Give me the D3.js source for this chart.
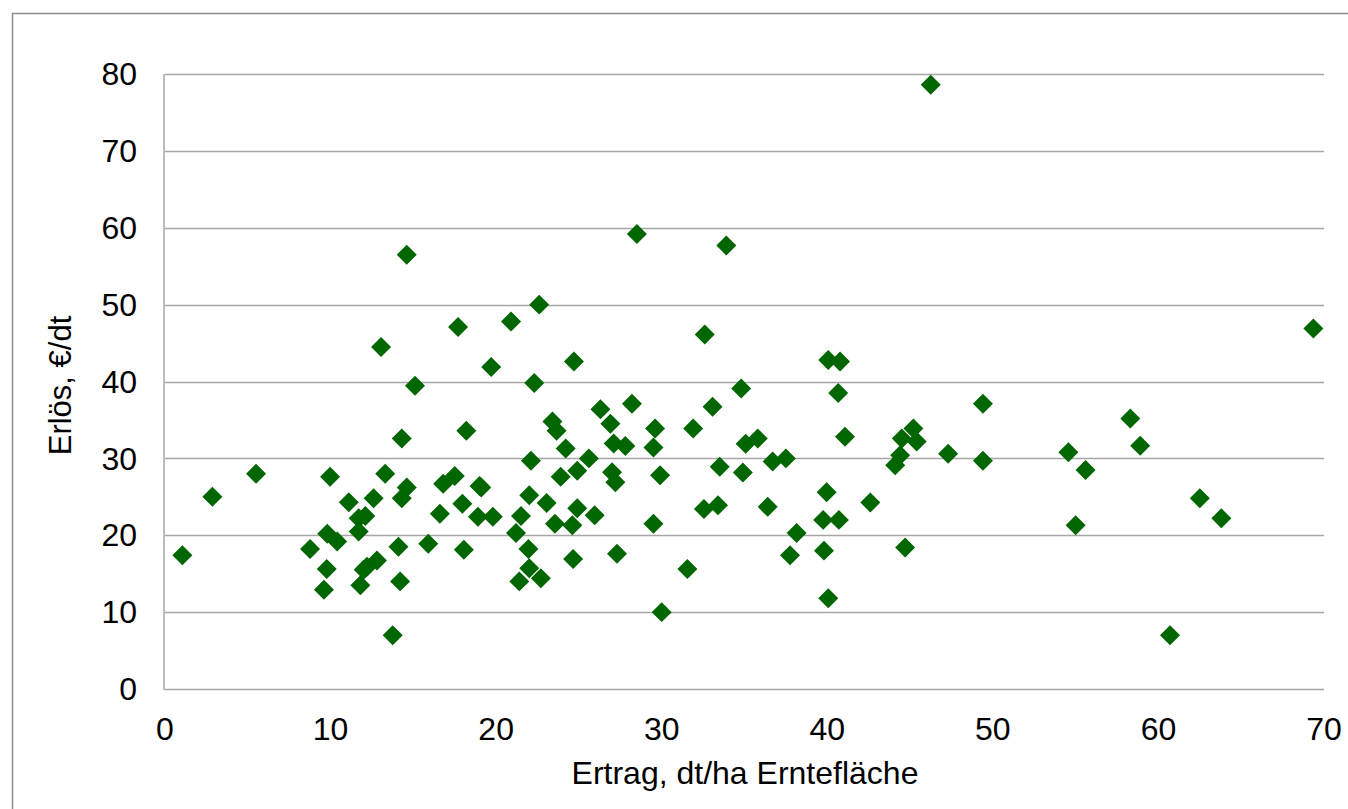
<!DOCTYPE html>
<html>
<head>
<meta charset="utf-8">
<script src="https://cdn.jsdelivr.net/npm/d3@7"></script>
<style>
  body { margin: 0; background: #fff; }
  svg { display: block; font-family: "Liberation Sans", Arial, sans-serif; }
</style>
</head>
<body>
<div id="chart"></div>
<script>
// Ertrag (dt/ha) und Erlös (€/dt)
const ertrag = [
  1.05, 2.86, 5.5, 8.76, 9.6, 9.77, 9.8, 9.97, 10.4, 11.1,
  11.7, 12.1, 11.7, 11.8, 12.0, 12.2, 12.6, 12.8, 13.05, 13.3,
  13.75, 14.1, 14.2, 14.3, 14.3, 14.6, 14.6, 15.1, 15.9, 16.6,
  16.8, 17.5, 17.7, 17.96, 18.05, 18.2, 19.0, 19.1, 18.9, 19.8,
  19.7, 20.9, 21.2, 21.4, 21.5, 21.95, 22.0, 22.0, 22.1, 22.3,
  22.6, 22.7, 23.05, 23.4, 23.55, 23.65, 23.9, 24.2, 24.6, 24.65,
  24.7, 24.9, 24.9, 25.6, 25.95, 26.3, 26.9, 27.0, 27.1, 27.2,
  27.3, 27.8, 28.2, 28.5, 29.5, 29.5, 29.6, 29.9, 30.0, 31.55,
  31.9, 32.55, 32.6, 33.07, 33.4, 33.5, 33.9, 34.8, 34.9, 35.07,
  35.8, 36.4, 36.7, 37.5, 37.75, 38.15, 39.75, 39.8, 39.96, 40.06,
  40.06, 40.66, 40.77, 40.7, 41.07, 42.6, 44.1, 44.4, 44.5, 44.7,
  45.2, 45.4, 46.25, 47.3, 49.4, 49.4, 54.56, 55.0, 55.6, 58.3,
  58.9, 60.7, 62.5, 63.8, 69.36
];
const erloes = [
  17.4, 25.0, 28.0, 18.2, 12.9, 15.6, 20.2, 27.6, 19.2, 24.3,
  22.2, 22.5, 20.5, 13.5, 15.5, 15.9, 24.8, 16.7, 44.5, 28.0,
  7.0, 18.5, 14.0, 32.6, 24.8, 26.2, 56.5, 39.45, 18.9, 22.8,
  26.7, 27.7, 47.1, 24.1, 18.1, 33.6, 26.4, 26.2, 22.4, 22.4,
  41.9, 47.8, 20.3, 14.0, 22.5, 18.2, 15.7, 25.2, 29.7, 39.8,
  50.0, 14.4, 24.2, 34.8, 21.5, 33.6, 27.6, 31.3, 21.3, 16.9,
  42.6, 28.4, 23.5, 30.0, 22.6, 36.4, 34.5, 28.2, 31.95, 26.9,
  17.6, 31.6, 37.1, 59.2, 31.4, 21.5, 33.9, 27.8, 10.0, 15.6,
  33.9, 23.4, 46.1, 36.7, 23.9, 28.9, 57.7, 39.1, 28.15, 31.9,
  32.6, 23.7, 29.6, 30.0, 17.4, 20.3, 22.0, 18.0, 25.6, 42.8,
  11.8, 38.5, 42.6, 22.0, 32.8, 24.25, 29.1, 30.4, 32.6, 18.4,
  33.9, 32.2, 78.6, 30.6, 37.1, 29.7, 30.8, 21.3, 28.5, 35.2,
  31.65, 7.0, 24.8, 22.2, 46.9
];
const xTicks = [0, 10, 20, 30, 40, 50, 60, 70];
const yTicks = [0, 10, 20, 30, 40, 50, 60, 70, 80];
const xTitle = "Ertrag, dt/ha Erntefläche";
const yTitle = "Erlös, €/dt";

const width = 1348;
const height = 809;
const margin = { top: 74, right: 24, bottom: 120, left: 165 };

const svg = d3.select("#chart")
  .append("svg")
  .attr("width", width)
  .attr("height", height);

// outer chart frame (only left and top edges are visible in the picture)
svg.append("rect")
  .attr("x", 12.5)
  .attr("y", 13.5)
  .attr("width", width + 20)
  .attr("height", height + 20)
  .attr("fill", "none")
  .attr("stroke", "#8c8c8c")
  .attr("stroke-width", 1.5);

const x = d3.scaleLinear()
  .domain([0, 70])
  .range([margin.left, width - margin.right]);

const y = d3.scaleLinear()
  .domain([0, 80])
  .range([height - margin.bottom, margin.top]);

// horizontal gridlines
svg.append("g")
  .selectAll("line")
  .data(yTicks.filter(d => d > 0))
  .enter()
  .append("line")
  .attr("x1", x(0))
  .attr("x2", x(70))
  .attr("y1", d => Math.round(y(d)) + 0.5)
  .attr("y2", d => Math.round(y(d)) + 0.5)
  .attr("stroke", "#a6a6a6")
  .attr("stroke-width", 1.5);

// axis lines
svg.append("line")
  .attr("x1", x(0) - 1).attr("x2", x(70))
  .attr("y1", y(0) + 0.5).attr("y2", y(0) + 0.5)
  .attr("stroke", "#a6a6a6").attr("stroke-width", 1.5);
svg.append("line")
  .attr("x1", x(0) - 1).attr("x2", x(0) - 1)
  .attr("y1", y(0) + 0.5).attr("y2", y(80))
  .attr("stroke", "#a6a6a6").attr("stroke-width", 1.5);

// tick labels
svg.append("g")
  .selectAll("text")
  .data(yTicks)
  .enter()
  .append("text")
  .attr("x", 137)
  .attr("y", d => y(d))
  .attr("dy", "0.35em")
  .attr("text-anchor", "end")
  .style("font-size", "32px")
  .attr("fill", "#000")
  .text(d => d);

svg.append("g")
  .selectAll("text")
  .data(xTicks)
  .enter()
  .append("text")
  .attr("x", d => x(d))
  .attr("y", 729)
  .attr("dy", "0.35em")
  .attr("text-anchor", "middle")
  .style("font-size", "32px")
  .attr("fill", "#000")
  .text(d => d);

// axis titles
svg.append("text")
  .attr("x", 745)
  .attr("y", 773)
  .attr("dy", "0.35em")
  .attr("text-anchor", "middle")
  .style("font-size", "32px")
  .text(xTitle);

svg.append("text")
  .attr("transform", `translate(60, ${(y(0) + y(80)) / 2 + 4}) rotate(-90)`)
  .attr("dy", "0.35em")
  .attr("text-anchor", "middle")
  .style("font-size", "31px")
  .text(yTitle);

// diamond markers (square rotated 45deg, like the spreadsheet marker)
const points = ertrag.map((v, i) => ({ x: v, y: erloes[i] }));
const marker = d3.symbol().type(d3.symbolSquare).size(200);

svg.append("g")
  .selectAll("path")
  .data(points)
  .enter()
  .append("path")
  .attr("d", marker)
  .attr("transform", d => `translate(${x(d.x)}, ${y(d.y)}) rotate(45)`)
  .attr("fill", "#006600");
</script>
</body>
</html>
